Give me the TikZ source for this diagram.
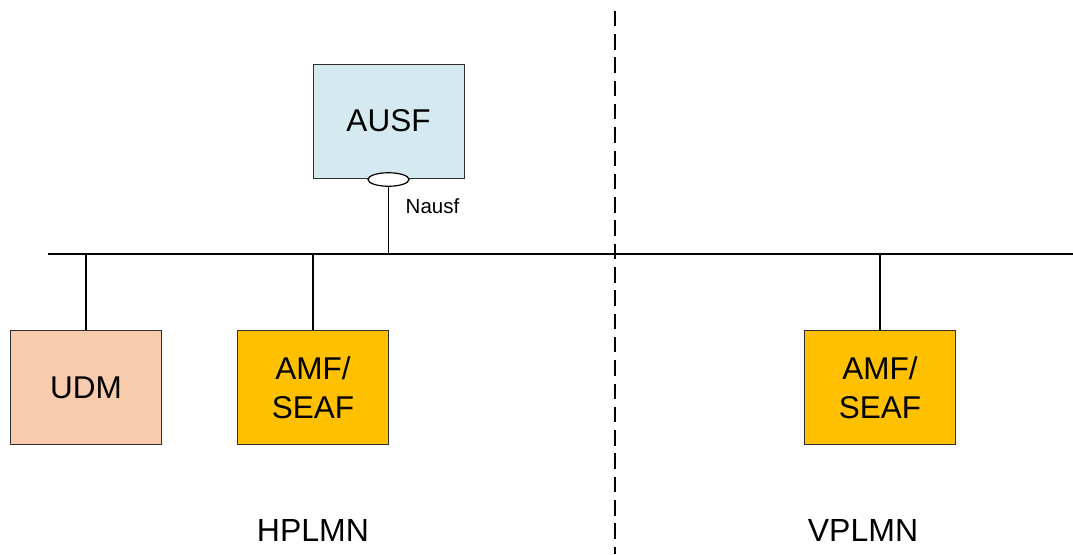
\documentclass[tikz,border=0pt]{standalone}
\usepackage{fontspec}
\setmainfont{Liberation Sans}
\usetikzlibrary{shapes.geometric}
\definecolor{ausfblue}{HTML}{D5EAF0}
\definecolor{udmpeach}{HTML}{F8CBAD}
\definecolor{amfgold}{HTML}{FFC000}
\definecolor{boxline}{HTML}{303030}
\begin{document}
\begin{tikzpicture}[x=1pt,y=-1pt,
  nf/.style={draw=boxline,line width=1pt,minimum width=151pt,minimum height=114pt,
    inner sep=0pt,align=center,font=\fontsize{31.5}{38.5}\selectfont},
  link/.style={draw=black,line width=1.4pt},
  zone/.style={font=\fontsize{32}{36}\selectfont,anchor=base},
  sep/.style={draw=black,line width=1.4pt,dash pattern=on 15.5pt off 7.8pt}]
\useasboundingbox (0,0) rectangle (1073,554);
% nodes
\node[nf,fill=ausfblue] (ausf) at (388.5,121) {AUSF};
\node[nf,fill=udmpeach] (udm) at (86,387.5) {UDM};
\node[nf,fill=amfgold] (amfh) at (313,387.5) {AMF/\\SEAF};
\node[nf,fill=amfgold] (amfv) at (880,387.5) {AMF/\\SEAF};
\node[draw=black,line width=1.2pt,fill=white,ellipse,minimum width=41pt,minimum height=13.5pt,inner sep=0pt] (sbi) at (388.5,179.5) {};
\node[anchor=west,font=\fontsize{20.5}{24}\selectfont,inner sep=0pt] (nausf) at (405.5,206) {Nausf};
% bus
\coordinate (busL) at (48,254);
\coordinate (busR) at (1073,254);
\draw[link] (busL) -- (busR);
\draw[link] (sbi.south) -- (sbi.south |- busL);
\draw[link] (udm.north) -- (udm.north |- busL);
\draw[link] (amfh.north) -- (amfh.north |- busL);
\draw[link] (amfv.north) -- (amfv.north |- busL);
% separator
\coordinate (sepT) at (615,10.7);
\coordinate (sepB) at (615,554);
\draw[sep] (sepT) -- (sepB);
% zone labels
\node[zone] (hplmn) at (313,541.7) {HPLMN};
\node[zone] (vplmn) at (863,541.7) {VPLMN};
\end{tikzpicture}
\end{document}
